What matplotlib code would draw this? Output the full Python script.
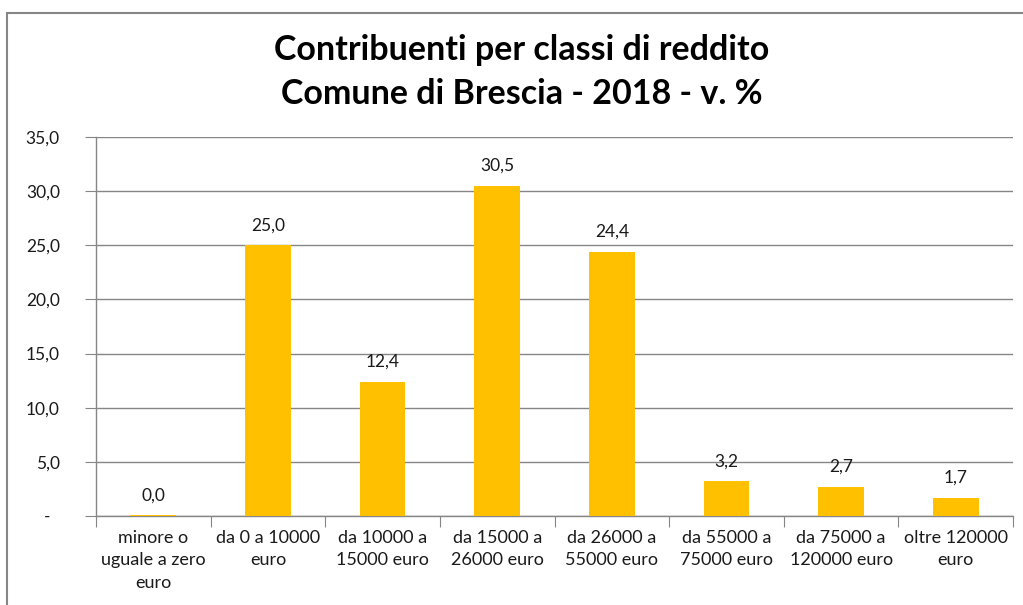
import matplotlib
matplotlib.use("Agg")
import matplotlib.pyplot as plt
from matplotlib.patches import Rectangle

categories = ["minore o\nuguale a zero\neuro", "da 0 a 10000\neuro", "da 10000 a\n15000 euro",
              "da 15000 a\n26000 euro", "da 26000 a\n55000 euro", "da 55000 a\n75000 euro",
              "da 75000 a\n120000 euro", "oltre 120000\neuro"]
values = [0.08, 25.0, 12.4, 30.5, 24.4, 3.2, 2.7, 1.7]
labels = ["0,0", "25,0", "12,4", "30,5", "24,4", "3,2", "2,7", "1,7"]
yticks = [0, 5, 10, 15, 20, 25, 30, 35]
ytick_labels = ["-  ", "5,0", "10,0", "15,0", "20,0", "25,0", "30,0", "35,0"]
title = "Contribuenti per classi di reddito\nComune di Brescia - 2018 - v. %"

plt.rcParams['font.family'] = ['Lato', 'DejaVu Sans']
W, H = 1023, 605
fig = plt.figure(figsize=(W / 100, H / 100), dpi=100)
fig.patch.set_facecolor("white")

# outer chart border
fig.patches.append(Rectangle((7 / W, -0.01), 1.1, (H - 13) / H + 0.01, transform=fig.transFigure,
                             fill=False, edgecolor="#868686", linewidth=1.5))

ax = fig.add_axes([96 / W, (H - 516) / H, (1013 - 96) / W, (516 - 137) / H])
x = list(range(len(categories)))
ax.bar(x, values, width=0.40, color="#FFC000", zorder=3)
for xi, v, lab in zip(x, values, labels):
    ax.text(xi, v + 1.1, lab, ha="center", va="bottom", fontsize=12.5, color="#1a1a1a")

ax.set_xlim(-0.5, len(categories) - 0.5)
ax.set_ylim(0, 35)
ax.set_yticks(yticks)
ax.set_yticklabels(ytick_labels, fontsize=12.5, color="#1a1a1a")
ax.yaxis.grid(True, color="#868686", linewidth=1, zorder=0)
ax.set_xticks([i - 0.5 for i in range(len(categories) + 1)], minor=False)
ax.set_xticklabels([])
ax.set_xticks(x, minor=True)
ax.set_xticklabels(categories, minor=True, fontsize=13, linespacing=1.5, color="#1a1a1a")
ax.tick_params(axis="x", which="minor", length=0, pad=10)
ax.tick_params(axis="x", which="major", length=8, color="#868686", direction="out")
ax.tick_params(axis="y", length=8, color="#868686", pad=18)
for s in ["top", "right"]:
    ax.spines[s].set_visible(False)
ax.spines["left"].set_color("#868686")
ax.spines["bottom"].set_color("#868686")
ax.spines["left"].set_linewidth(1)
ax.spines["bottom"].set_linewidth(1)

fig.text(522 / W, 1 - 72 / H, title, ha="center", va="center", fontsize=24.5, fontweight="bold",
         linespacing=1.45)

fig.savefig("out.png", dpi=100)
